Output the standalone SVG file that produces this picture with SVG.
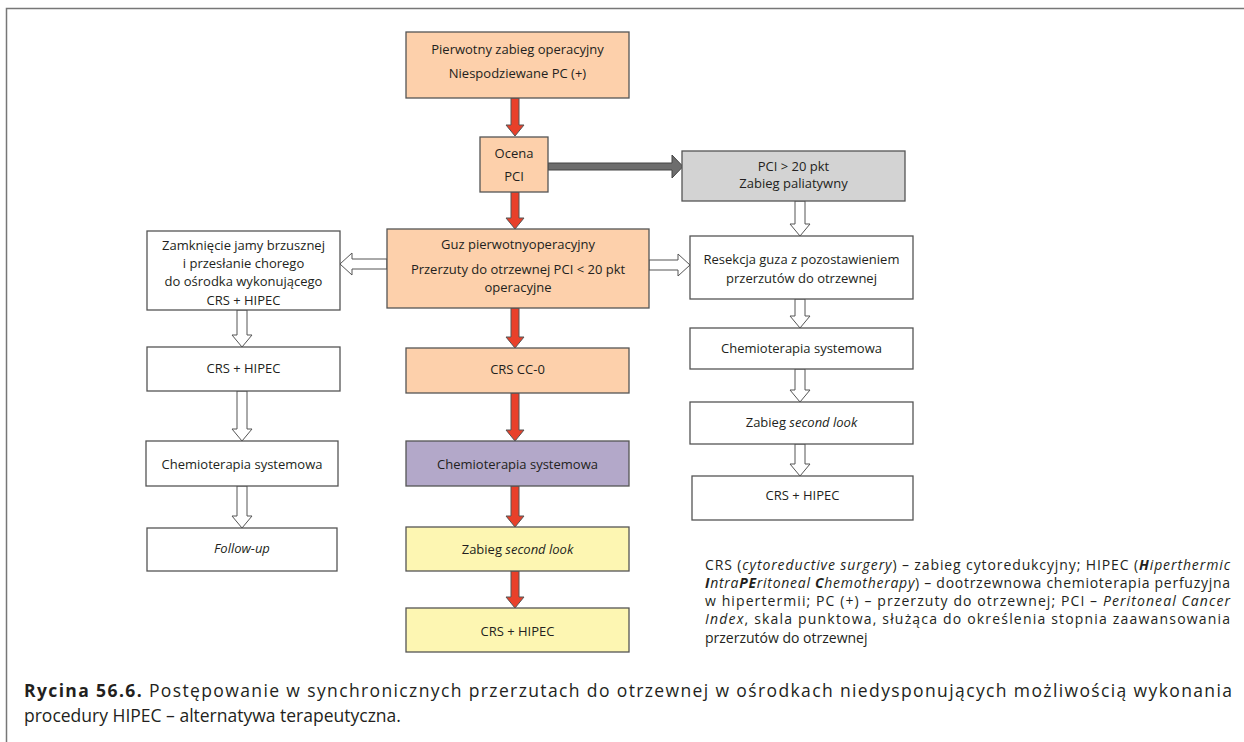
<svg xmlns="http://www.w3.org/2000/svg" width="1244" height="742" viewBox="0 0 1244 742">
<style>
.box{stroke:#555;stroke-width:1.3}
.w{fill:#fff}
.p{fill:#fdd0ab}
.g{fill:#d3d3d3}
.v{fill:#b3a8c9}
.y{fill:#fdf6b2}
.t{font-family:"Open Sans","Noto Sans",sans-serif;font-size:13px;fill:#231f20;text-anchor:middle}
.red{fill:#e8402a;stroke:#555;stroke-width:1}
.hol{fill:#fff;stroke:#555;stroke-width:1}
.gr{fill:#6d6d6d;stroke:#444;stroke-width:1}
.lg{font-family:"Open Sans","Noto Sans",sans-serif;font-size:14px;fill:#231f20}
.cap{font-family:"Open Sans","Noto Sans",sans-serif;font-size:17.5px;fill:#231f20}
</style>
<rect x="0" y="0" width="1244" height="742" fill="#fff"/>
<path d="M6.5,742 V8.5 H1244" fill="none" stroke="#777" stroke-width="1.5"/>

<g id="connectors">
<polygon class="red" points="511,98 519,98 519,125 524,125 515,136 506,125 511,125"/>
<polygon class="red" points="511,192 519,192 519,218 524,218 515,229 506,218 511,218"/>
<polygon class="red" points="511,308 519,308 519,337 524,337 515,348 506,337 511,337"/>
<polygon class="red" points="511,393 519,393 519,430 524,430 515,441 506,430 511,430"/>
<polygon class="red" points="511,486 519,486 519,516 524,516 515,527 506,516 511,516"/>
<polygon class="red" points="511,571 519,571 519,597 524,597 515,608 506,597 511,597"/>
<polygon class="gr" points="548,163 672,163 672,155 683,166.5 672,178 672,170 548,170"/>
<polygon class="hol" points="387,259 352,259 352,253 340,264 352,275 352,269 387,269"/>
<polygon class="hol" points="649,260 678,260 678,254 690,265 678,276 678,270 649,270"/>
<polygon class="hol" points="795,201 805,201 805,224 810,224 800,236 790,224 795,224"/>
<polygon class="hol" points="795,299 805,299 805,316 810,316 800,328 790,316 795,316"/>
<polygon class="hol" points="795,369 805,369 805,390 810,390 800,402 790,390 795,390"/>
<polygon class="hol" points="795,444 805,444 805,464 810,464 800,476 790,464 795,464"/>
<polygon class="hol" points="237,310 247,310 247,335 252,335 242,347 232,335 237,335"/>
<polygon class="hol" points="237,391 247,391 247,429 252,429 242,441 232,429 237,429"/>
<polygon class="hol" points="237,486 247,486 247,516 252,516 242,528 232,516 237,516"/>
</g>

<g id="n-start"><rect class="box p" x="406" y="32" width="223" height="66"/>
<text class="t" x="517.5" y="54">Pierwotny zabieg operacyjny</text>
<text class="t" x="517.5" y="78">Niespodziewane PC (+)</text></g>

<g id="n-ocena"><rect class="box p" x="480" y="137" width="68" height="55"/>
<text class="t" x="514" y="158">Ocena</text>
<text class="t" x="514" y="181">PCI</text></g>

<g id="n-pci20"><rect class="box g" x="682" y="151" width="223" height="50"/>
<text class="t" x="793.5" y="171">PCI &gt; 20 pkt</text>
<text class="t" x="793.5" y="188">Zabieg paliatywny</text></g>

<g id="n-guz"><rect class="box p" x="387" y="229" width="262" height="79"/>
<text class="t" x="518" y="249">Guz pierwotnyoperacyjny</text>
<text class="t" x="518" y="274">Przerzuty do otrzewnej PCI &lt; 20 pkt</text>
<text class="t" x="518" y="292">operacyjne</text></g>

<g id="n-zamkniecie"><rect class="box w" x="147" y="231" width="193" height="79"/>
<text class="t" x="243.5" y="250">Zamknięcie jamy brzusznej</text>
<text class="t" x="243.5" y="268">i przesłanie chorego</text>
<text class="t" x="243.5" y="286">do ośrodka wykonującego</text>
<text class="t" x="243.5" y="305">CRS + HIPEC</text></g>

<g id="n-resekcja"><rect class="box w" x="690" y="236" width="223" height="63"/>
<text class="t" x="801.5" y="264">Resekcja guza z pozostawieniem</text>
<text class="t" x="801.5" y="283">przerzutów do otrzewnej</text></g>

<g id="n-chemo-r"><rect class="box w" x="690" y="328" width="223" height="41"/>
<text class="t" x="801.5" y="353">Chemioterapia systemowa</text></g>

<g id="n-second-r"><rect class="box w" x="690" y="402" width="223" height="42"/>
<text class="t" x="801.5" y="427">Zabieg <tspan font-style="italic">second look</tspan></text></g>

<g id="n-crs-r"><rect class="box w" x="692" y="476" width="221" height="44"/>
<text class="t" x="802.5" y="500">CRS + HIPEC</text></g>

<g id="n-crs-l"><rect class="box w" x="147" y="347" width="193" height="44"/>
<text class="t" x="243.5" y="373">CRS + HIPEC</text></g>

<g id="n-chemo-l"><rect class="box w" x="146" y="441" width="192" height="45"/>
<text class="t" x="242" y="469">Chemioterapia systemowa</text></g>

<g id="n-follow"><rect class="box w" x="147" y="528" width="190" height="43"/>
<text class="t" x="242" y="553" font-style="italic">Follow-up</text></g>

<g id="n-cc0"><rect class="box p" x="406" y="348" width="223" height="45"/>
<text class="t" x="517.5" y="374">CRS CC-0</text></g>

<g id="n-chemo-c"><rect class="box v" x="406" y="441" width="223" height="45"/>
<text class="t" x="517.5" y="469">Chemioterapia systemowa</text></g>

<g id="n-second-c"><rect class="box y" x="406" y="527" width="223" height="44"/>
<text class="t" x="517.5" y="554">Zabieg <tspan font-style="italic">second look</tspan></text></g>

<g id="n-crs-c"><rect class="box y" x="406" y="608" width="223" height="44"/>
<text class="t" x="517.5" y="636">CRS + HIPEC</text></g>

<g id="legend">
<text class="lg" x="705" y="570" textLength="525" lengthAdjust="spacing">CRS (<tspan font-style="italic">cytoreductive surgery</tspan>) – zabieg cytoredukcyjny; HIPEC (<tspan font-style="italic" font-weight="bold">H</tspan><tspan font-style="italic">iperthermic</tspan></text>
<text class="lg" x="705" y="588" textLength="525" lengthAdjust="spacing"><tspan font-style="italic" font-weight="bold">I</tspan><tspan font-style="italic">ntra</tspan><tspan font-style="italic" font-weight="bold">PE</tspan><tspan font-style="italic">ritoneal </tspan><tspan font-style="italic" font-weight="bold">C</tspan><tspan font-style="italic">hemotherapy</tspan>) – dootrzewnowa chemioterapia perfuzyjna</text>
<text class="lg" x="705" y="606" textLength="525" lengthAdjust="spacing">w hipertermii; PC (+) – przerzuty do otrzewnej; PCI – <tspan font-style="italic">Peritoneal Cancer</tspan></text>
<text class="lg" x="705" y="624" textLength="525" lengthAdjust="spacing"><tspan font-style="italic">Index</tspan>, skala punktowa, służąca do określenia stopnia zaawansowania</text>
<text class="lg" x="705" y="643">przerzutów do otrzewnej</text>
</g>

<g id="caption">
<text class="cap" x="24" y="697" textLength="1208" lengthAdjust="spacing"><tspan font-weight="bold">Rycina 56.6.</tspan> Postępowanie w synchronicznych przerzutach do otrzewnej w ośrodkach niedysponujących możliwością wykonania</text>
<text class="cap" x="24" y="722">procedury HIPEC – alternatywa terapeutyczna.</text>
</g>
</svg>
